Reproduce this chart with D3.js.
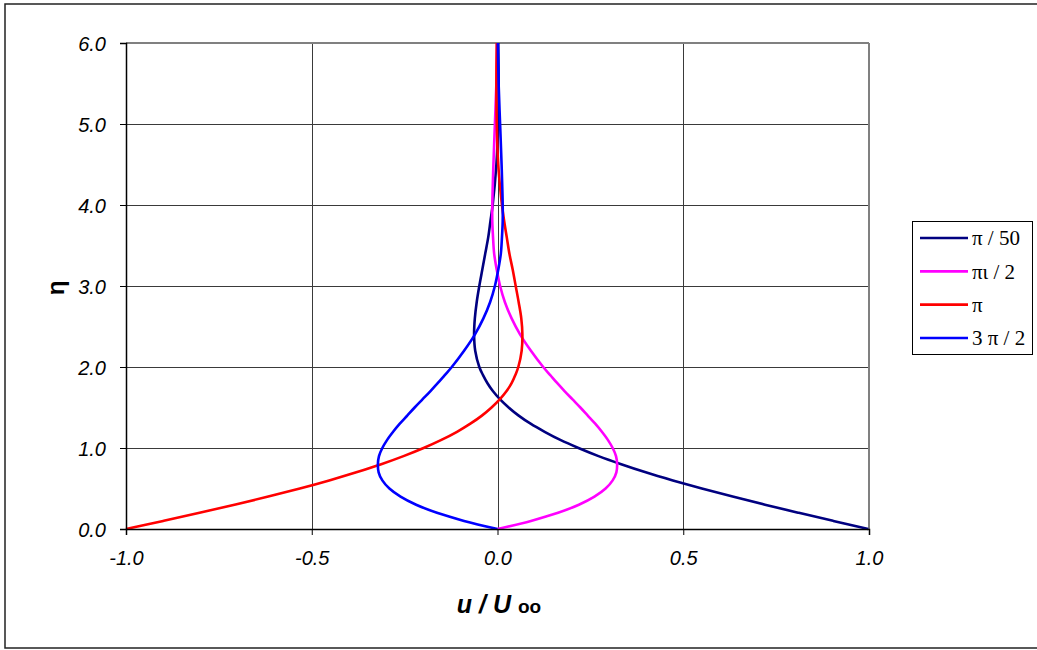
<!DOCTYPE html>
<html>
<head>
<meta charset="utf-8">
<script src="https://cdn.jsdelivr.net/npm/d3@7"></script>
<style>
  html, body { margin: 0; padding: 0; background: #fff; }
  svg { display: block; }
</style>
</head>
<body>
<svg id="chart" width="1037" height="650"></svg>
<script>
// ---- Data ----
const eta = [0, 0.1, 0.2, 0.3, 0.4, 0.5, 0.6, 0.7, 0.8, 0.9, 1.0, 1.1, 1.2, 1.3, 1.4, 1.5, 1.6, 1.7, 1.8, 1.9,
  2.0, 2.2, 2.4, 2.6, 2.8, 3.0, 3.2, 3.4, 3.6, 3.8, 4.0, 4.5, 5.0, 5.5, 6.0];

const uPi50 = [0.998, 0.904, 0.811, 0.720, 0.633, 0.550, 0.472, 0.399, 0.333, 0.272, 0.218, 0.169, 0.127, 0.089, 0.057, 0.030, 0.007, -0.012, -0.027, -0.039,
  -0.049, -0.060, -0.063, -0.061, -0.056, -0.049, -0.041, -0.033, -0.025, -0.019, -0.013, -0.003, 0.002, 0.003, 0.002];

const uPiHalf = [0, 0.090, 0.163, 0.219, 0.261, 0.291, 0.310, 0.320, 0.322, 0.319, 0.310, 0.297, 0.281, 0.263, 0.243, 0.223, 0.202, 0.181, 0.161, 0.142,
  0.123, 0.090, 0.061, 0.038, 0.020, 0.007, -0.002, -0.009, -0.012, -0.014, -0.014, -0.011, -0.007, -0.003, -0.001];

const uPi = [-1.0, -0.900, -0.802, -0.708, -0.617, -0.532, -0.453, -0.380, -0.313, -0.253, -0.199, -0.151, -0.109, -0.073, -0.042, -0.016, 0.006, 0.024, 0.038, 0.048,
  0.056, 0.065, 0.067, 0.064, 0.057, 0.049, 0.041, 0.032, 0.025, 0.018, 0.012, 0.002, -0.002, -0.003, -0.002];

const u3PiHalf = [0, -0.090, -0.163, -0.219, -0.261, -0.291, -0.310, -0.320, -0.322, -0.319, -0.310, -0.297, -0.281, -0.263, -0.243, -0.223, -0.202, -0.181, -0.161, -0.142,
  -0.123, -0.090, -0.061, -0.038, -0.020, -0.007, 0.002, 0.009, 0.012, 0.014, 0.014, 0.011, 0.007, 0.003, 0.001];

const seriesNames = ["π / 50", "πι / 2", "π", "3 π / 2"];
const seriesColors = ["#000080", "#ff00ff", "#ff0000", "#0000ff"];
const seriesValues = [uPi50, uPiHalf, uPi, u3PiHalf];

const xTicks = [-1.0, -0.5, 0.0, 0.5, 1.0];
const yTicks = [0, 1, 2, 3, 4, 5, 6];

// ---- Layout ----
const svg = d3.select("#chart");
const plot = { left: 126, right: 869, top: 43, bottom: 529 };

const x = d3.scaleLinear().domain([-1, 1]).range([plot.left, plot.right]);
const y = d3.scaleLinear().domain([0, 6]).range([plot.bottom, plot.top]);

// plain hyphen for negatives, like the original
const fmt = d => d.toFixed(1);

// outer chart border
svg.append("rect")
  .attr("x", 5).attr("y", 4)
  .attr("width", 1040).attr("height", 644)
  .attr("fill", "none")
  .attr("stroke", "#222")
  .attr("stroke-width", 1.5);

// gridlines
const grid = svg.append("g");
grid.selectAll("line.gy")
  .data(yTicks.filter(d => d > 0 && d < 6))
  .join("line")
  .attr("x1", plot.left).attr("x2", plot.right)
  .attr("y1", d => Math.round(y(d)) + 0.5).attr("y2", d => Math.round(y(d)) + 0.5)
  .attr("stroke", "#3a3a3a").attr("stroke-width", 1);

grid.selectAll("line.gx")
  .data(xTicks.filter(d => d > -1 && d < 1))
  .join("line")
  .attr("x1", d => Math.round(x(d)) + 0.5).attr("x2", d => Math.round(x(d)) + 0.5)
  .attr("y1", plot.top).attr("y2", plot.bottom)
  .attr("stroke", "#3a3a3a").attr("stroke-width", 1);

// plot-area border (top & right in gray)
svg.append("line")
  .attr("x1", plot.left).attr("x2", plot.right)
  .attr("y1", plot.top).attr("y2", plot.top)
  .attr("stroke", "#808080").attr("stroke-width", 2);
svg.append("line")
  .attr("x1", plot.right).attr("x2", plot.right)
  .attr("y1", plot.top).attr("y2", plot.bottom)
  .attr("stroke", "#808080").attr("stroke-width", 2);

// ---- Series ----
const line = d3.line()
  .x(d => x(d[1]))
  .y(d => y(d[0]))
  .curve(d3.curveCatmullRom.alpha(0.5));

seriesValues.forEach((vals, i) => {
  svg.append("path")
    .datum(eta.map((e, j) => [e, vals[j]]))
    .attr("d", line)
    .attr("fill", "none")
    .attr("stroke", seriesColors[i])
    .attr("stroke-width", 2.6)
    .attr("stroke-linejoin", "round");
});

// ---- Axes ----
const xAxis = svg.append("g")
  .attr("transform", `translate(0,${plot.bottom})`)
  .call(d3.axisBottom(x).tickValues(xTicks).tickFormat(fmt).tickSize(6).tickPadding(16));

const yAxis = svg.append("g")
  .attr("transform", `translate(${plot.left},0)`)
  .call(d3.axisLeft(y).tickValues(yTicks).tickFormat(fmt).tickSize(6).tickPadding(14));

[xAxis, yAxis].forEach(ax => {
  ax.attr("font-size", null);
  ax.select(".domain").attr("stroke", "#000").attr("stroke-width", 1.5);
  ax.selectAll(".tick line").attr("stroke", "#000");
  ax.selectAll(".tick text")
    .attr("fill", "#000")
    .style("font-family", "'Liberation Sans', Arial, sans-serif")
    .style("font-style", "italic")
    .style("font-size", "20px");
});
yAxis.selectAll(".tick text").attr("dy", "0.35em");

// axis titles
svg.append("text")
  .attr("transform", "translate(64,288) rotate(-90)")
  .attr("text-anchor", "middle")
  .attr("font-family", "'Liberation Sans', Arial, sans-serif")
  .attr("font-weight", "bold")
  .attr("font-size", 24)
  .text("η");

const xt = svg.append("text")
  .attr("x", 499).attr("y", 613)
  .attr("text-anchor", "middle")
  .attr("font-family", "'Liberation Sans', Arial, sans-serif")
  .attr("font-weight", "bold")
  .attr("font-size", 25);
xt.append("tspan").attr("font-style", "italic").text("u / U ");
xt.append("tspan").attr("font-size", 19).text("oo");

// ---- Legend ----
const legend = svg.append("g");
legend.append("rect")
  .attr("x", 912.5).attr("y", 221.5)
  .attr("width", 120).attr("height", 133)
  .attr("fill", "#fff")
  .attr("stroke", "#000").attr("stroke-width", 1);

const ly = d3.scalePoint().domain(seriesNames).range([238, 338]);
const items = legend.selectAll("g.item")
  .data(seriesNames)
  .join("g")
  .attr("transform", d => `translate(0,${ly(d)})`);
items.append("line")
  .attr("x1", 920).attr("x2", 968)
  .attr("stroke", (d, i) => seriesColors[i])
  .attr("stroke-width", 2.6);
items.append("text")
  .attr("x", 972).attr("dy", "0.35em")
  .attr("font-family", "'Liberation Serif', 'Times New Roman', serif")
  .attr("font-size", 21)
  .attr("fill", "#000")
  .text(d => d);
</script>
</body>
</html>
